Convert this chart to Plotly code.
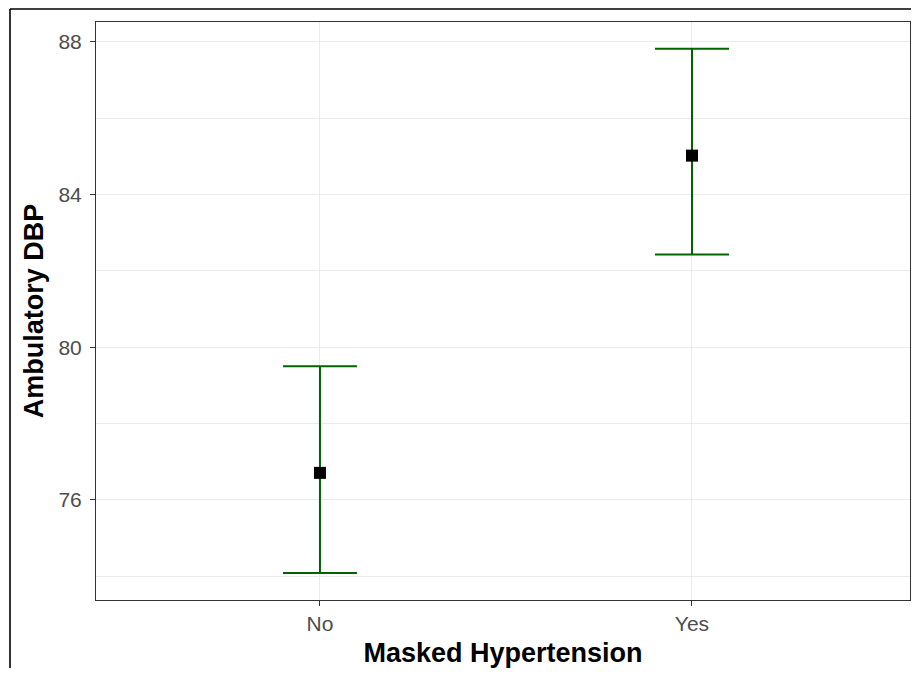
import plotly.graph_objects as go

categories = ["No", "Yes"]
means = [76.71, 85.02]
lower = [74.09, 82.43]
upper = [79.50, 87.82]

# page body has an 8px margin, so the figure is sized/placed to compensate
W, H = 903, 660
ML, MR, MT, MB = 88, 1, 14, 68

fig = go.Figure()
fig.add_trace(go.Scatter(
    x=categories, y=means, mode="markers",
    marker=dict(symbol="square", size=12, color="black"),
    error_y=dict(type="data", symmetric=False,
                 array=[u - m for u, m in zip(upper, means)],
                 arrayminus=[m - l for m, l in zip(means, lower)],
                 color="#006400", thickness=2, width=37),
    showlegend=False,
))

pw = W - ML - MR
ph = H - MT - MB
fx = (2 - ML) / pw
fy = 1 + (MT - 1) / ph
fig.add_shape(type="line", xref="paper", yref="paper", x0=fx, x1=1 + (MR + 5) / pw, y0=fy, y1=fy,
              line=dict(color="black", width=1.6))
fig.add_shape(type="line", xref="paper", yref="paper", x0=fx, x1=fx, y0=fy, y1=-(MB + 5) / ph,
              line=dict(color="black", width=1.6))

fig.update_layout(
    width=W, height=H,
    margin=dict(l=ML, r=MR, t=MT, b=MB),
    paper_bgcolor="white", plot_bgcolor="white",
    font=dict(family="Liberation Sans, Arial, sans-serif"),
    xaxis=dict(
        type="category", range=[-0.602, 1.586],
        showgrid=True, gridcolor="#EBEBEB", gridwidth=1.2,
        showline=True, mirror=True, linecolor="#333333", linewidth=1,
        ticks="outside", ticklen=5, tickcolor="#333333",
        tickfont=dict(size=21, color="#4D4D4D"),
        title=dict(text="<b>Masked Hypertension</b>", font=dict(size=27, color="black"), standoff=13),
        zeroline=False,
    ),
    yaxis=dict(
        range=[73.38, 88.52], tick0=76, dtick=4,
        showgrid=True, gridcolor="#EBEBEB", gridwidth=1.2,
        minor=dict(dtick=2, tick0=74, showgrid=True, gridcolor="#EBEBEB", gridwidth=0.8),
        showline=True, mirror=True, linecolor="#333333", linewidth=1,
        ticks="outside", ticklen=5, tickcolor="#333333",
        tickfont=dict(size=21, color="#4D4D4D"),
        ticklabelstandoff=4,
        title=dict(text="<b>Ambulatory DBP</b>", font=dict(size=27, color="black"), standoff=6),
        zeroline=False,
    ),
)

fig.write_html("out.html")
